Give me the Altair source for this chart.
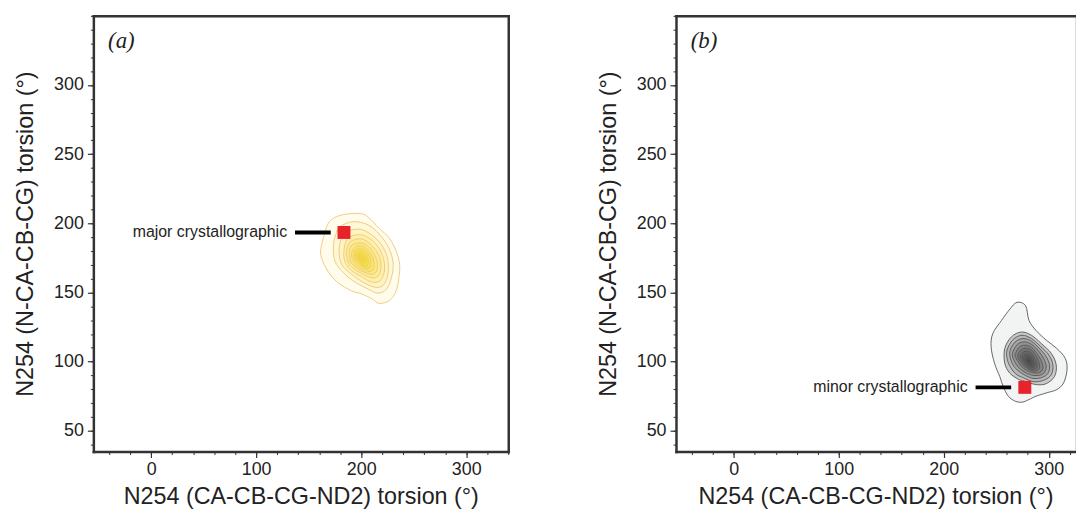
import altair as alt
import pandas as pd

# ---------------- data ----------------
# Panel (a): density contour rings, outer -> inner (degrees)
A_RING_X = [
    [181.1, 199.1, 207.2, 217.0, 226.8, 233.3, 236.6, 235.9, 233.3, 226.8, 217.0, 210.5, 200.7, 190.9, 177.8, 168.1, 162.2, 161.5, 164.8, 169.7],
    [179.8, 192.4, 206.7, 217.7, 226.3, 230.4, 228.8, 224.0, 216.1, 206.7, 194.0, 183.0, 175.1, 173.5, 175.7],
    [186.1, 198.8, 209.8, 219.3, 225.0, 225.6, 221.8, 214.6, 203.5, 190.9, 181.4, 178.9, 180.7],
    [189.3, 200.3, 210.5, 217.7, 221.8, 221.8, 217.7, 209.8, 200.3, 189.3, 183.9, 183.9, 186.1],
    [191.5, 201.0, 209.2, 215.5, 218.7, 218.0, 213.6, 206.7, 197.8, 189.3, 186.1, 186.8],
    [193.4, 201.3, 208.2, 213.0, 215.5, 214.6, 210.5, 204.1, 196.5, 190.2, 188.6, 189.9],
    [195.0, 201.9, 207.3, 211.1, 212.3, 211.1, 207.3, 201.9, 195.6, 191.8, 190.9],
    [196.2, 202.2, 206.7, 208.9, 209.2, 206.7, 202.2, 197.2, 193.7, 193.1],
    [197.2, 201.9, 205.1, 206.7, 206.0, 202.9, 198.8, 195.3, 195.0],
    [197.8, 201.3, 203.5, 204.1, 202.2, 199.1, 196.5],
    [198.4, 200.7, 201.9, 200.7, 198.4, 197.5],
]
A_RING_Y = [
    [206.0, 207.1, 204.1, 196.4, 189.3, 179.8, 170.3, 160.7, 151.2, 144.1, 142.1, 145.3, 148.9, 151.2, 157.1, 165.5, 175.0, 181.0, 191.7, 201.2],
    [197.6, 201.2, 198.8, 191.7, 182.2, 171.4, 160.7, 152.4, 149.5, 152.4, 157.6, 164.3, 172.6, 183.3, 191.7],
    [194.1, 195.7, 191.7, 184.5, 175.0, 164.3, 156.0, 153.6, 156.7, 163.1, 170.3, 179.8, 188.1],
    [190.5, 191.7, 187.6, 181.0, 172.6, 164.3, 158.3, 157.6, 161.4, 166.7, 173.8, 182.2, 187.6],
    [187.6, 188.6, 184.5, 178.6, 171.4, 164.3, 160.7, 161.4, 164.8, 169.5, 176.2, 182.9],
    [185.2, 185.7, 182.2, 176.7, 171.0, 165.5, 163.1, 164.3, 167.2, 171.9, 178.1, 182.9],
    [183.3, 183.3, 179.8, 175.0, 170.3, 166.2, 165.3, 166.7, 169.5, 173.8, 178.6],
    [181.4, 181.0, 177.9, 173.8, 169.5, 167.4, 168.1, 171.0, 174.3, 178.1],
    [179.8, 179.1, 176.2, 172.6, 169.5, 169.1, 171.4, 174.8, 177.9],
    [178.3, 177.4, 175.0, 171.9, 171.0, 172.9, 175.5],
    [176.9, 176.0, 173.8, 172.9, 174.3, 176.0],
]

# Panel (b): density contour rings, outer -> inner (degrees)
B_RING_X = [
    [269.8, 277.9, 281.2, 287.8, 297.7, 307.6, 315.7, 317.4, 314.1, 307.6, 297.7, 287.8, 281.2, 274.7, 268.1, 261.5, 256.6, 253.3, 248.3, 245.1, 246.7, 255.0, 263.1],
    [258.1, 264.4, 273.9, 283.4, 292.9, 302.4, 307.1, 305.5, 297.6, 288.1, 277.1, 270.8, 262.9, 258.1],
    [260.3, 266.0, 274.6, 283.4, 292.0, 300.1, 303.9, 302.4, 295.1, 285.6, 277.1, 268.5, 262.9, 260.3],
    [262.9, 267.9, 275.5, 283.4, 290.7, 297.6, 300.8, 298.9, 292.9, 285.0, 277.1, 269.8, 264.8],
    [265.4, 269.8, 276.4, 283.4, 289.4, 295.1, 297.6, 295.4, 290.0, 283.4, 276.4, 270.4, 266.7],
    [267.9, 271.7, 277.4, 283.4, 288.1, 292.6, 294.5, 292.6, 287.5, 281.8, 276.1, 271.7, 268.9],
    [270.4, 273.6, 278.3, 283.4, 287.2, 290.4, 291.3, 289.4, 285.3, 280.6, 276.1, 272.7],
    [273.0, 275.5, 279.3, 283.4, 286.2, 288.5, 288.8, 286.9, 283.4, 279.3, 275.5],
    [275.2, 277.4, 280.2, 283.4, 285.3, 286.6, 286.2, 284.0, 280.9, 277.4],
    [277.4, 279.3, 281.5, 283.7, 284.7, 284.3, 282.1, 279.3],
    [279.3, 280.9, 282.5, 283.1, 281.8, 279.9],
]
B_RING_Y = [
    [142.9, 140.5, 129.8, 122.6, 115.5, 109.6, 102.4, 94.1, 84.6, 79.8, 77.4, 75.0, 72.6, 70.7, 71.4, 75.0, 82.1, 89.3, 98.9, 110.7, 120.3, 129.8, 138.1],
    [109.5, 117.9, 121.4, 119.1, 113.1, 106.0, 97.6, 89.3, 84.1, 83.4, 85.8, 87.4, 91.7, 98.8],
    [108.4, 116.0, 119.1, 116.7, 111.2, 104.8, 97.7, 90.5, 86.5, 85.5, 87.9, 91.2, 96.9, 102.4],
    [107.2, 114.1, 116.7, 114.8, 109.8, 103.6, 96.9, 91.2, 88.4, 87.9, 90.3, 94.1, 99.3],
    [106.0, 112.2, 114.3, 112.6, 108.4, 102.4, 96.5, 91.7, 90.0, 90.3, 92.7, 96.5, 101.2],
    [104.8, 110.3, 111.9, 110.5, 106.5, 101.2, 96.0, 92.7, 91.7, 92.7, 95.0, 98.8, 102.4],
    [104.1, 108.4, 109.8, 108.4, 104.8, 100.3, 96.0, 93.6, 93.1, 94.6, 96.9, 100.3],
    [103.6, 106.7, 107.6, 106.2, 103.1, 99.3, 96.0, 94.6, 94.6, 96.2, 99.3],
    [102.9, 105.0, 105.5, 104.1, 101.2, 98.4, 96.0, 95.5, 96.7, 99.3],
    [101.9, 103.4, 103.4, 101.7, 99.3, 97.2, 97.2, 98.8],
    [101.0, 101.9, 101.0, 99.1, 98.4, 99.3],
]

# crystallographic positions and annotations
PANEL_TAGS = ["(a)", "(b)"]
CRYST_LABELS = ["major crystallographic", "minor crystallographic"]
CRYST_X = [183.6, 277.2]
CRYST_Y = [193.4, 81.4]
LEADER_X1 = [137.0, 230.3]
LEADER_X2 = [171.0, 264.2]
TAG_X = -41.0
TAG_Y = 332.0

X_TITLE = "N254 (CA-CB-CG-ND2) torsion (°)"
Y_TITLE = "N254 (N-CA-CB-CG) torsion (°)"
X_MAJOR = [0, 100, 200, 300]
X_MINOR = list(range(-40, 341, 20))
Y_MAJOR = [50, 100, 150, 200, 250, 300]
Y_MINOR = list(range(40, 351, 10))

X_DOMAIN_A = [-55, 340]
X_DOMAIN_B = [-55, 325]
Y_DOMAIN = [35, 350]

# ---------------- styles ----------------
A_FILLS = ["#fffcec", "#fef8d8", "#fdf4c2", "#fcf0ac", "#fbec96", "#f9e980",
           "#f8e66a", "#f6e354", "#f5e140", "#f3df2e", "#f2dd1e"]
A_STROKE = "#efc678"
B_FILLS = ["#f2f3f3", "#c9c9c9", "#b6b6b6", "#a4a4a4", "#939393", "#838383",
           "#747474", "#676767", "#5c5c5c", "#525252", "#494949"]
B_STROKE = "#555555"
FRAME = "#333333"
TXT = "#222222"
FONT = "Liberation Sans"


def rings_df(xs, ys, key):
    rows = []
    for lvl, (rx, ry) in enumerate(zip(xs, ys)):
        for i, (x, y) in enumerate(zip(rx, ry)):
            rows.append({key: lvl, "idx": i, "x": x, "y": y})
    return pd.DataFrame(rows)


def panel(k, xs_list, ys_list, fills, stroke, xdom, right_frame, width):
    xs = alt.Scale(domain=xdom, nice=False, zero=False)
    ys = alt.Scale(domain=Y_DOMAIN, nice=False, zero=False)
    levels = list(range(len(xs_list)))
    key = "level_a" if k == 0 else "level_b"

    x_major = alt.Axis(orient="bottom", values=X_MAJOR, grid=False, domain=True,
                       domainColor=FRAME, domainWidth=2.5, domainCap="square",
                       tickSize=6, tickColor=FRAME, tickWidth=1.2,
                       labelFont=FONT, labelFontSize=18, labelColor=TXT, labelPadding=3,
                       title=X_TITLE, titleFont=FONT, titleFontSize=23.5,
                       titleFontWeight="normal", titleColor=TXT, titlePadding=6)
    y_major = alt.Axis(orient="left", values=Y_MAJOR, grid=False, domain=True,
                       domainColor=FRAME, domainWidth=2.5, domainCap="square",
                       tickSize=6, tickColor=FRAME, tickWidth=1.2,
                       labelFont=FONT, labelFontSize=18, labelColor=TXT, labelPadding=4,
                       title=Y_TITLE, titleFont=FONT, titleFontSize=23.5,
                       titleFontWeight="normal", titleColor=TXT, titlePadding=16)
    x_minor = alt.Axis(orient="bottom", values=X_MINOR, grid=False, domain=False,
                       labels=False, tickSize=3, tickColor=FRAME, tickWidth=1)
    y_minor = alt.Axis(orient="left", values=Y_MINOR, grid=False, domain=False,
                       labels=False, tickSize=3, tickColor=FRAME, tickWidth=1)
    x_top = alt.Axis(orient="top", grid=False, domain=True, domainColor=FRAME,
                     domainWidth=2.5, domainCap="square", labels=False, ticks=False)
    y_right = alt.Axis(orient="right", grid=False, domain=True, domainColor=FRAME,
                       domainWidth=2.5, domainCap="square", labels=False, ticks=False)

    contours = alt.Chart(rings_df(xs_list, ys_list, key)).mark_line(
        filled=True, interpolate="cardinal-closed", stroke=stroke, strokeWidth=0.9,
        fillOpacity=1
    ).encode(
        x=alt.X("x:Q", scale=xs, axis=x_major),
        y=alt.Y("y:Q", scale=ys, axis=y_major),
        color=alt.Color(f"{key}:O", scale=alt.Scale(domain=levels, range=fills), legend=None),
        order=alt.Order("idx:Q"),
    )

    pt = pd.DataFrame({
        "x": [CRYST_X[k]], "y": [CRYST_Y[k]], "x1": [LEADER_X1[k]], "x2": [LEADER_X2[k]],
        "label": [CRYST_LABELS[k]], "tag": [PANEL_TAGS[k]], "tx": [TAG_X], "ty": [TAG_Y],
    })
    base = alt.Chart(pt)

    minor = base.mark_point(opacity=0).encode(
        x=alt.X("x:Q", scale=xs, axis=x_minor, title=None),
        y=alt.Y("y:Q", scale=ys, axis=y_minor, title=None),
    )
    frame = base.mark_point(opacity=0).encode(
        x=alt.X("x:Q", scale=xs, axis=x_top, title=None),
        y=alt.Y("y:Q", scale=ys, axis=(y_right if right_frame else None), title=None),
    )
    leader = base.mark_rule(strokeWidth=4, color="black").encode(
        x=alt.X("x1:Q", scale=xs, axis=None),
        x2="x2:Q",
        y=alt.Y("y:Q", scale=ys, axis=None),
    )
    square = base.mark_square(size=170, color="#e8232a", opacity=1).encode(
        x=alt.X("x:Q", scale=xs, axis=None),
        y=alt.Y("y:Q", scale=ys, axis=None),
    )
    label = base.mark_text(align="right", baseline="middle", dx=-8, font=FONT,
                           fontSize=16, color=TXT).encode(
        x=alt.X("x1:Q", scale=xs, axis=None),
        y=alt.Y("y:Q", scale=ys, axis=None),
        text="label:N",
    )
    tag = base.mark_text(align="left", baseline="middle", font="Liberation Serif",
                         fontStyle="italic", fontSize=23, color=TXT).encode(
        x=alt.X("tx:Q", scale=xs, axis=None),
        y=alt.Y("ty:Q", scale=ys, axis=None),
        text="tag:N",
    )
    return alt.layer(contours, minor, frame, leader, square, label, tag).resolve_axis(
        x="independent", y="independent"
    ).properties(width=width, height=439)


pa = panel(0, A_RING_X, A_RING_Y, A_FILLS, A_STROKE, X_DOMAIN_A, True, 418)
pb = panel(1, B_RING_X, B_RING_Y, B_FILLS, B_STROKE, X_DOMAIN_B, False, 402)

chart = alt.hconcat(pa, pb, spacing=87).resolve_scale(color="independent").properties(
    padding={"left": 5, "top": 5, "right": 0, "bottom": 0}
).configure_view(stroke=None).configure(background="white")

chart.save("out.html", embed_options={"renderer": "svg", "actions": False})
